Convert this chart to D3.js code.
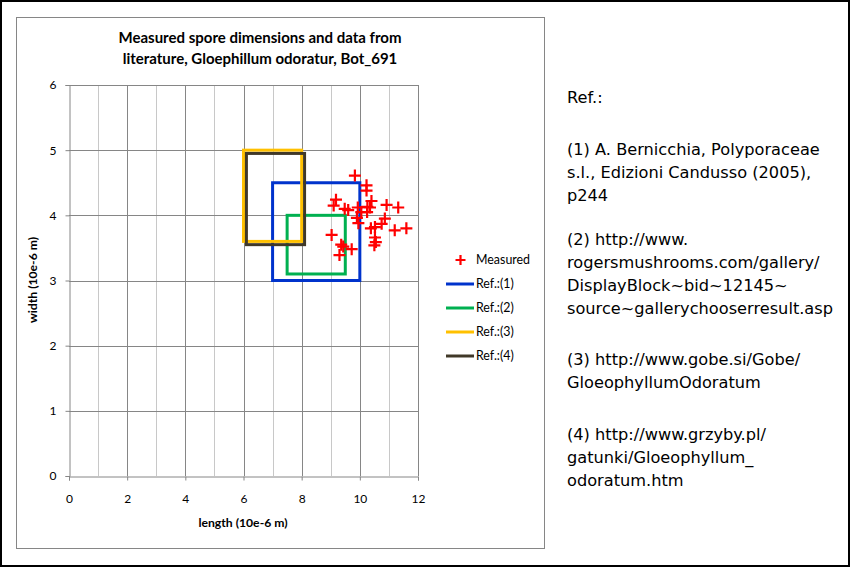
<!DOCTYPE html>
<html><head><meta charset="utf-8">
<script src="https://cdn.jsdelivr.net/npm/d3@7"></script>
<style>body{margin:0;background:#fff}svg{display:block}</style>
</head><body>
<script>
// ---- data ----
const measuredLength = [9.83,10.23,10.23,9.18,9.10,10.40,10.35,10.92,11.32,9.48,9.60,9.93,10.05,10.26,10.25,9.90,9.95,10.86,10.75,10.38,10.52,11.20,11.60,10.52,10.55,10.50,9.03,9.36,9.43,9.72,9.30];
const measuredWidth  = [4.61,4.46,4.38,4.24,4.15,4.22,4.12,4.16,4.12,4.10,4.08,4.12,4.05,4.13,4.05,3.96,3.88,3.95,3.87,3.80,3.82,3.77,3.80,3.66,3.59,3.54,3.70,3.55,3.52,3.48,3.39];
const refNames = ["Ref.:(1)","Ref.:(2)","Ref.:(3)","Ref.:(4)"];
const refLenMin = [7, 7.5, 6, 6.1];
const refLenMax = [10, 9.5, 8, 8.1];
const refWidMin = [3, 3.1, 3.6, 3.55];
const refWidMax = [4.5, 4.0, 5.0, 4.95];
const refColors = ["#0033cc","#00b050","#ffc000","#403828"];
const xTicks = [0,2,4,6,8,10,12];
const yTicks = [0,1,2,3,4,5,6];
const titleLines = ["Measured spore dimensions and data from","literature, Gloephillum odoratur, Bot_691"];
const refText = [
  ["Ref.:"],
  ["(1) A. Bernicchia, Polyporaceae","s.l., Edizioni Candusso (2005),","p244"],
  ["(2) http://www.","rogersmushrooms.com/gallery/","DisplayBlock~bid~12145~","source~gallerychooserresult.asp"],
  ["(3) http://www.gobe.si/Gobe/","GloeophyllumOdoratum"],
  ["(4) http://www.grzyby.pl/","gatunki/Gloeophyllum_","odoratum.htm"]
];

const W=850,H=567;
const svg=d3.select("body").append("svg").attr("width",W).attr("height",H);
const font="Lato, 'Open Sans', sans-serif";

// outer border
svg.append("rect").attr("x",1).attr("y",1).attr("width",W-2).attr("height",H-2)
  .attr("fill","#fff").attr("stroke","#000").attr("stroke-width",2);
// chart box
svg.append("rect").attr("x",16.5).attr("y",17.5).attr("width",528).attr("height",531)
  .attr("fill","#fff").attr("stroke","#868686").attr("stroke-width",1);

const x=d3.scaleLinear().domain([0,12]).range([69,418]);
const y=d3.scaleLinear().domain([0,6]).range([476,85]);

// grid
const g=svg.append("g");
g.selectAll(".vg").data(d3.range(1,13)).join("line")
  .attr("x1",d=>Math.round(x(d))+0.5).attr("x2",d=>Math.round(x(d))+0.5)
  .attr("y1",y(6)).attr("y2",y(0))
  .attr("stroke",d=>d%2===0?"#868686":"#c8c8c8").attr("stroke-width",1);
g.selectAll(".hg").data(d3.range(1,7)).join("line")
  .attr("y1",d=>Math.round(y(d))+0.5).attr("y2",d=>Math.round(y(d))+0.5)
  .attr("x1",x(0)).attr("x2",x(12))
  .attr("stroke","#868686").attr("stroke-width",1);

// axes
const xa=svg.append("g").attr("transform",`translate(0,${Math.round(y(0))+0.5})`)
  .call(d3.axisBottom(x).tickValues(xTicks).tickSize(4).tickPadding(14).tickFormat(d3.format("d")));
const ya=svg.append("g").attr("transform",`translate(${Math.round(x(0))+0.5},0)`)
  .call(d3.axisLeft(y).tickValues(yTicks).tickSize(4).tickPadding(9).tickFormat(d3.format("d")));
[xa,ya].forEach(a=>{
  a.select(".domain").attr("stroke","#868686");
  a.selectAll(".tick line").attr("stroke","#868686");
  a.selectAll("text").attr("font-family",font).attr("font-size",12).attr("fill","#000");
});

// rectangles
svg.selectAll(".ref").data(refNames).join("rect")
  .attr("x",(d,i)=>x(refLenMin[i])).attr("y",(d,i)=>y(refWidMax[i]))
  .attr("width",(d,i)=>x(refLenMax[i])-x(refLenMin[i]))
  .attr("height",(d,i)=>y(refWidMin[i])-y(refWidMax[i]))
  .attr("fill","none").attr("stroke",(d,i)=>refColors[i]).attr("stroke-width",3);

// measured points
const pts=measuredLength.map((l,i)=>[l,measuredWidth[i]]);
svg.selectAll(".pt").data(pts).join("path")
  .attr("d",d=>{const cx=x(d[0]),cy=y(d[1]),r=6;return `M${cx-r},${cy}H${cx+r}M${cx},${cy-r}V${cy+r}`;})
  .attr("stroke","#ff0000").attr("stroke-width",2.2).attr("fill","none");

// title
svg.append("text").attr("x",260).attr("y",43).attr("text-anchor","middle")
  .attr("font-family",font).attr("font-weight","bold").attr("font-size",15)
  .selectAll("tspan").data(titleLines).join("tspan")
  .attr("x",260).attr("dy",(d,i)=>i?21:0).text(d=>d);

// axis titles
svg.append("text").attr("x",243).attr("y",527).attr("text-anchor","middle")
  .attr("font-family",font).attr("font-weight","bold").attr("font-size",12.2).text("length (10e-6 m)");
svg.append("text").attr("transform","translate(37,280) rotate(-90)").attr("text-anchor","middle")
  .attr("font-family",font).attr("font-weight","bold").attr("font-size",12.2).text("width (10e-6 m)");

// legend
const lg=svg.append("g").attr("font-family",font).attr("font-size",12.4);
lg.append("path").attr("d","M455.5,260H465.5M460.5,255V265").attr("stroke","#ff0000").attr("stroke-width",2.2);
lg.append("text").attr("x",476).attr("y",264).text("Measured");
refNames.forEach((n,i)=>{
  const yy=284+i*24;
  lg.append("line").attr("x1",446).attr("x2",474).attr("y1",yy).attr("y2",yy)
    .attr("stroke",refColors[i]).attr("stroke-width",3);
  lg.append("text").attr("x",476).attr("y",yy+4).text(n);
});

// reference text
const rt=svg.append("g").attr("font-family","'DejaVu Sans', Verdana, sans-serif").attr("font-size",16.2).attr("fill","#000");
const paraStart=[103,155,245,365,440];
refText.forEach((para,pi)=>{
  para.forEach((line,li)=>{
    rt.append("text").attr("x",567).attr("y",paraStart[pi]+li*23).text(line);
  });
});
</script>
</body></html>
